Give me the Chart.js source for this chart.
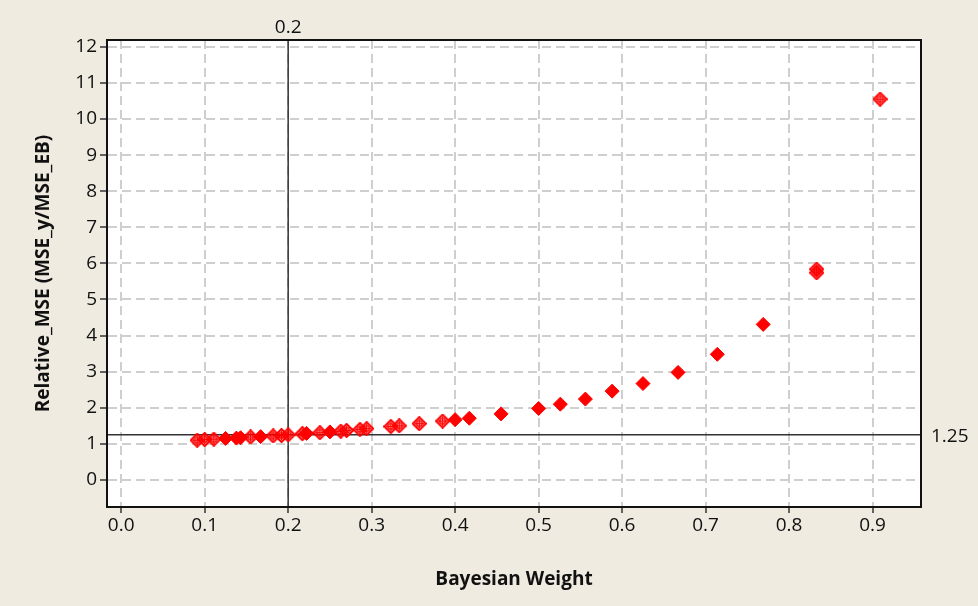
<!DOCTYPE html>
<html>
<head>
<meta charset="utf-8">
<script src="https://cdn.jsdelivr.net/npm/chart.js@4/dist/chart.umd.min.js"></script>
<style>
  html, body { margin: 0; padding: 0; background: #efebe1; }
  #wrap { width: 978px; height: 606px; }
</style>
</head>
<body>
<div id="wrap"><canvas id="chart-mse"></canvas></div>
<script>
  // points drawn as filled diamonds
  const filledX = [0.125, 0.138, 0.143, 0.167, 0.222, 0.250, 0.400, 0.417, 0.455, 0.500, 0.526, 0.556, 0.588, 0.625, 0.667, 0.714, 0.769];
  const filledY = [1.15, 1.16, 1.17, 1.20, 1.29, 1.33, 1.67, 1.71, 1.83, 1.98, 2.10, 2.24, 2.46, 2.67, 2.98, 3.48, 4.31];
  // points drawn as open diamonds with a cross
  const openX = [0.091, 0.100, 0.111, 0.155, 0.182, 0.192, 0.200, 0.217, 0.238, 0.263, 0.270, 0.286, 0.294, 0.323, 0.333, 0.357, 0.385, 0.833, 0.833, 0.909];
  const openY = [1.10, 1.12, 1.13, 1.19, 1.22, 1.23, 1.25, 1.28, 1.31, 1.35, 1.37, 1.40, 1.42, 1.48, 1.50, 1.56, 1.63, 5.74, 5.84, 10.55];

  const xTicks = [0.0, 0.1, 0.2, 0.3, 0.4, 0.5, 0.6, 0.7, 0.8, 0.9];
  const yTicks = [0, 1, 2, 3, 4, 5, 6, 7, 8, 9, 10, 11, 12];
  const refX = 0.2;
  const refY = 1.25;

  const pts = (xs, ys) => xs.map((x, i) => ({ x: x, y: ys[i] }));

  function openDiamond() {
    const c = document.createElement('canvas');
    c.width = 15; c.height = 15;
    const g = c.getContext('2d');
    g.strokeStyle = '#ff0000';
    g.lineWidth = 2;
    g.beginPath();
    g.moveTo(7.5, 1); g.lineTo(14, 7.5); g.lineTo(7.5, 14); g.lineTo(1, 7.5); g.closePath();
    g.stroke();
    g.lineWidth = 1.3;
    g.beginPath();
    g.arc(7.5, 7.5, 2.8, 0, 2 * Math.PI);
    g.moveTo(7.5, 3); g.lineTo(7.5, 12);
    g.moveTo(3, 7.5); g.lineTo(12, 7.5);
    g.stroke();
    return c;
  }

  // white plot, frame round it, and the two reference lines with labels
  const framePlugin = {
    id: 'frame',
    beforeDraw(chart) {
      const { ctx, chartArea: a } = chart;
      ctx.save();
      ctx.fillStyle = '#ffffff';
      ctx.fillRect(a.left, a.top, a.right - a.left, a.bottom - a.top);
      ctx.restore();
    },
    beforeDatasetsDraw(chart) {
      const { ctx, chartArea: a, scales } = chart;
      const px = scales.x.getPixelForValue(refX);
      const py = scales.y.getPixelForValue(refY);
      ctx.save();
      ctx.strokeStyle = '#333333';
      ctx.lineWidth = 1.5;
      ctx.beginPath();
      ctx.moveTo(px, a.top); ctx.lineTo(px, a.bottom);
      ctx.moveTo(a.left, py); ctx.lineTo(a.right, py);
      ctx.stroke();
      ctx.fillStyle = '#111111';
      ctx.font = '19px "Open Sans", "Noto Sans", sans-serif';
      ctx.textAlign = 'center';
      ctx.textBaseline = 'bottom';
      ctx.fillText(String(refX), px, a.top - 3);
      ctx.textAlign = 'left';
      ctx.textBaseline = 'middle';
      ctx.fillText(String(refY), a.right + 10, py + 2);
      ctx.restore();
    },
    afterDraw(chart) {
      const { ctx, chartArea: a } = chart;
      ctx.save();
      ctx.strokeStyle = '#111111';
      ctx.lineWidth = 2;
      ctx.strokeRect(a.left, a.top, a.right - a.left, a.bottom - a.top);
      ctx.restore();
    }
  };

  const tickFont = { family: '"Open Sans", "Noto Sans", sans-serif', size: 19 };
  const titleFont = { family: '"Open Sans", "Noto Sans", sans-serif', size: 19, weight: 'bold' };

  new Chart(document.getElementById('chart-mse').getContext('2d'), {
    type: 'scatter',
    data: {
      datasets: [{
        label: 'filled',
        data: pts(filledX, filledY),
        pointStyle: 'rectRot',
        pointRadius: 7,
        pointHoverRadius: 7,
        backgroundColor: '#ff0000',
        borderColor: '#ff0000',
        borderWidth: 1
      }, {
        label: 'open',
        data: pts(openX, openY),
        pointStyle: openDiamond(),
        pointRadius: 7,
        backgroundColor: '#ff0000',
        borderColor: '#ff0000'
      }]
    },
    options: {
      responsive: true,
      maintainAspectRatio: false,
      animation: false,
      events: [],
      layout: { padding: { left: 7, right: 57, top: 40, bottom: 0 } },
      plugins: { legend: { display: false }, tooltip: { enabled: false } },
      scales: {
        x: {
          type: 'linear',
          min: -0.017,
          max: 0.958,
          afterBuildTicks: (s) => { s.ticks = xTicks.map(v => ({ value: v })); },
          afterFit: (s) => { s.height = 99; },
          ticks: {
            color: '#111111',
            font: tickFont,
            padding: 1,
            maxRotation: 0,
            callback: (v) => Number(v).toFixed(1)
          },
          grid: {
            color: '#cfcfcf',
            lineWidth: 2,
            tickLength: 6,
            tickColor: '#333333',
            tickWidth: 1.5,
            tickBorderDash: []
          },
          border: { color: '#111111', width: 2, dash: [9, 5] },
          title: {
            display: true,
            text: 'Bayesian Weight',
            color: '#111111',
            font: titleFont,
            padding: { top: 0, bottom: 15 }
          }
        },
        y: {
          type: 'linear',
          min: -0.75,
          max: 12.19,
          afterBuildTicks: (s) => { s.ticks = yTicks.map(v => ({ value: v })); },
          afterFit: (s) => { s.width = 100; },
          ticks: {
            color: '#111111',
            font: tickFont,
            padding: 3
          },
          grid: {
            color: '#cfcfcf',
            lineWidth: 2,
            tickLength: 7,
            tickColor: '#333333',
            tickWidth: 1.5,
            tickBorderDash: []
          },
          border: { color: '#111111', width: 2, dash: [9, 5] },
          title: {
            display: true,
            text: 'Relative_MSE (MSE_y/MSE_EB)',
            color: '#111111',
            font: titleFont,
            padding: { top: 25, bottom: 0 }
          }
        }
      }
    },
    plugins: [framePlugin]
  });
</script>
</body>
</html>
